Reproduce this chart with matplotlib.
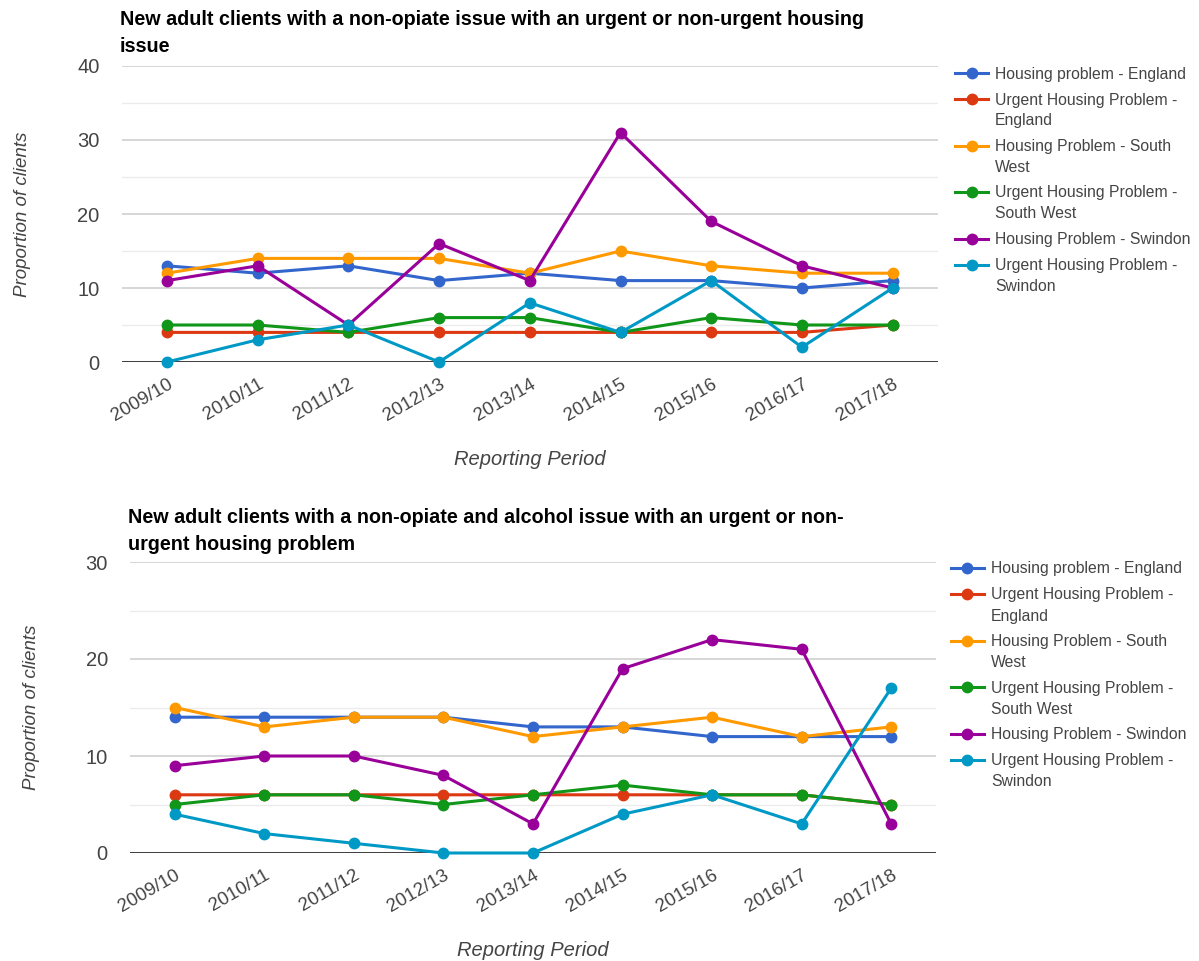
import matplotlib
matplotlib.use('Agg')
import matplotlib.pyplot as plt
from matplotlib.lines import Line2D
from matplotlib.ticker import MultipleLocator

plt.rcParams['font.family'] = ['Liberation Sans', 'DejaVu Sans']

periods = ['2009/10', '2010/11', '2011/12', '2012/13', '2013/14',
           '2014/15', '2015/16', '2016/17', '2017/18']

series_names = [
    'Housing problem - England',
    'Urgent Housing Problem -\nEngland',
    'Housing Problem - South\nWest',
    'Urgent Housing Problem -\nSouth West',
    'Housing Problem - Swindon',
    'Urgent Housing Problem -\nSwindon',
]
series_colors = ['#3366cc', '#dc3912', '#ff9900', '#109618', '#990099', '#0099c6']

# non-opiate clients
np_housing_eng = [13, 12, 13, 11, 12, 11, 11, 10, 11]
np_urgent_eng = [4, 4, 4, 4, 4, 4, 4, 4, 5]
np_housing_sw = [12, 14, 14, 14, 12, 15, 13, 12, 12]
np_urgent_sw = [5, 5, 4, 6, 6, 4, 6, 5, 5]
np_housing_swin = [11, 13, 5, 16, 11, 31, 19, 13, 10]
np_urgent_swin = [0, 3, 5, 0, 8, 4, 11, 2, 10]

# non-opiate and alcohol clients
na_housing_eng = [14, 14, 14, 14, 13, 13, 12, 12, 12]
na_urgent_eng = [6, 6, 6, 6, 6, 6, 6, 6, 5]
na_housing_sw = [15, 13, 14, 14, 12, 13, 14, 12, 13]
na_urgent_sw = [5, 6, 6, 5, 6, 7, 6, 6, 5]
na_housing_swin = [9, 10, 10, 8, 3, 19, 22, 21, 3]
na_urgent_swin = [4, 2, 1, 0, 0, 4, 6, 3, 17]

TEXT = '#444444'
W, H = 1199, 961


def draw_legend(fig, x0, y0):
    # legend in pixel terms, marker sits level with the first text line
    y = y0
    for name, col in zip(series_names, series_colors):
        fy = 1 - y / H
        fig.add_artist(Line2D([x0 / W, (x0 + 33) / W], [fy, fy], color=col,
                              lw=2.2, transform=fig.transFigure))
        fig.add_artist(Line2D([(x0 + 16.5) / W], [fy], color=col, marker='o',
                              ms=7.5, transform=fig.transFigure))
        fig.text((x0 + 40) / W, 1 - (y - 6.5) / H, name, fontsize=11.3,
                 color=TEXT, ha='left', va='top', linespacing=1.5)
        y += 26 + 20.5 * name.count('\n')


def draw_panel(fig, rect, title, data, ymax, title_xy, legend_xy):
    ax = fig.add_axes(rect)
    x = list(range(len(periods)))
    for vals, name, col in zip(data, series_names, series_colors):
        ax.plot(x, vals, color=col, lw=2.2, marker='o', ms=7.5,
                label=name, zorder=3, clip_on=False)

    ax.set_xlim(-0.5, len(periods) - 0.5)
    ax.set_ylim(0, ymax)
    ax.yaxis.set_major_locator(MultipleLocator(10))
    ax.yaxis.set_minor_locator(MultipleLocator(5))
    ax.grid(axis='y', which='major', color='#cccccc', lw=1.1, zorder=0)
    ax.grid(axis='y', which='minor', color='#ebebeb', lw=1.0, zorder=0)
    ax.axhline(0, color='#333333', lw=1.3, zorder=2)
    for s in ax.spines.values():
        s.set_visible(False)

    ax.set_xticks(x)
    ax.set_xticklabels(periods, rotation=30, ha='right', rotation_mode='anchor',
                       fontsize=13.5, color=TEXT)
    ax.tick_params(axis='x', length=0, pad=10)
    ax.tick_params(axis='y', which='both', length=0, pad=16,
                   labelsize=14.5, labelcolor=TEXT)

    ax.set_xlabel('Reporting Period', fontsize=14.5, style='italic',
                  color=TEXT, labelpad=18)
    ax.set_ylabel('Proportion of clients', fontsize=13.5, style='italic',
                  color=TEXT, labelpad=33)

    fig.text(title_xy[0] / W, 1 - title_xy[1] / H, title, fontsize=14.2,
             fontweight='bold', color='#000000', ha='left', va='top',
             linespacing=1.55)

    draw_legend(fig, *legend_xy)
    return ax


fig = plt.figure(figsize=(11.99, 9.61), dpi=100)
fig.patch.set_facecolor('white')

draw_panel(fig, [121.6 / W, 1 - 362 / H, 816.4 / W, 296 / H],
           'New adult clients with a non-opiate issue with an urgent or non-urgent housing\nissue',
           [np_housing_eng, np_urgent_eng, np_housing_sw, np_urgent_sw,
            np_housing_swin, np_urgent_swin],
           40, (120, 10), (955, 73))

draw_panel(fig, [130 / W, 1 - 853 / H, 806 / W, 291 / H],
           'New adult clients with a non-opiate and alcohol issue with an urgent or non-\nurgent housing problem',
           [na_housing_eng, na_urgent_eng, na_housing_sw, na_urgent_sw,
            na_housing_swin, na_urgent_swin],
           30, (128, 508), (951, 568))

fig.savefig('out.png', dpi=100, facecolor='white')
